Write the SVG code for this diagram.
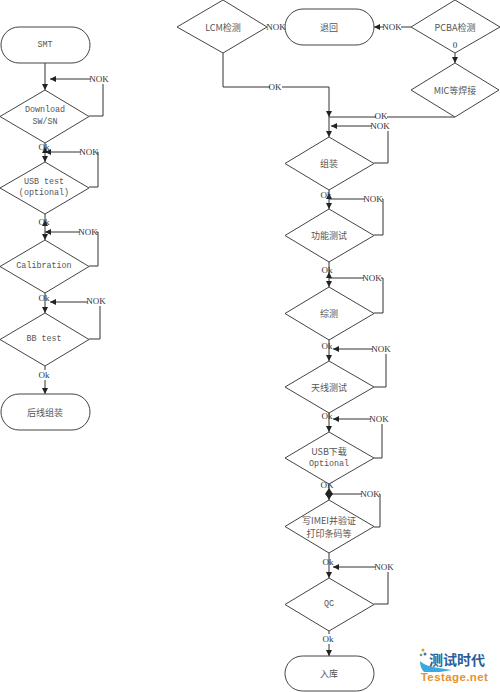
<svg xmlns="http://www.w3.org/2000/svg" width="500" height="692" viewBox="0 0 500 692">
<defs>
<marker id="ah" markerUnits="userSpaceOnUse" markerWidth="7" markerHeight="7" refX="6" refY="3" orient="auto"><path d="M0,0 L6,3 L0,6 Z" fill="#222"/></marker>
</defs>
<style>
.s{fill:#fff;stroke:#444;stroke-width:1}
.c{fill:none;stroke:#333;stroke-width:1}
.a{marker-end:url(#ah)}
text{font-family:"Liberation Mono","Noto Sans CJK SC",monospace;font-size:8.4px;fill:#555;text-anchor:middle;dominant-baseline:central}
.z{font-family:"Noto Sans CJK SC",sans-serif;font-size:9px}
.m{font-family:"Liberation Serif","Noto Sans CJK SC",serif;font-size:9px;fill:#333}
.b{fill:#fff;stroke:none}
</style>
<g id="connectors">
<path class="c a" d="M45,63V90"/>
<path class="c a" d="M89,116H103V79H50"/>
<path class="c a" d="M45,143V162"/>
<path class="c a" d="M89,187H98V152H45"/>
<path class="c a" d="M45,214V240"/>
<path class="c a" d="M89,266H98V232H45"/>
<path class="c a" d="M45,293V313"/>
<path class="c a" d="M89,339H100V302H50"/>
<path class="c a" d="M45,366V394"/>
<path class="c a" d="M411,27H374"/>
<path class="c a" d="M455,53V63"/>
<path class="c" d="M223,53V87H329"/>
<path class="c a" d="M329,87V117"/>
<path class="c" d="M455,117H329"/>
<path class="c a" d="M329,117V137"/>
<path class="c a" d="M374,163H388V126H331"/>
<path class="c a" d="M329,190V209"/>
<path class="c" d="M374,235H383V199H329"/>
<path class="c a" d="M329,262V287"/>
<path class="c" d="M374,313H383V278H329"/>
<path class="c a" d="M329,340V361"/>
<path class="c a" d="M374,387H386V349H333"/>
<path class="c a" d="M329,413V432"/>
<path class="c a" d="M374,458H382V419H333"/>
<path class="c a" d="M329,484V500"/>
<path class="c" d="M374,527H380V494H329"/>
<path class="c a" d="M329,553V578"/>
<path class="c a" d="M374,604H388V567H333"/>
<path class="c a" d="M329,631V656"/>
<path d="M45,220l-3,6h6zM45,147l-3,6h6zM329,193l-3,6h6zM329,272l-3,6h6zM329,488l-4,6 4,5 4-5z" fill="#222"/>
<g>
<rect class="b" x="91" y="74" width="16" height="10"/><text x="99" y="79" class="m">NOK</text>
<rect class="b" x="81" y="147" width="16" height="10"/><text x="89" y="152" class="m">NOK</text>
<rect class="b" x="80" y="227" width="16" height="10"/><text x="88" y="232" class="m">NOK</text>
<rect class="b" x="88" y="296" width="16" height="10"/><text x="96" y="301" class="m">NOK</text>
<text x="44" y="147" class="m">Ok</text>
<text x="44" y="222" class="m">Ok</text>
<text x="44" y="298" class="m">Ok</text>
<rect class="b" x="39" y="370" width="10" height="10"/><text x="44" y="375" class="m">Ok</text>
<rect class="b" x="268" y="22" width="16" height="10"/><text x="276" y="27" class="m">NOK</text>
<rect class="b" x="384" y="22" width="17" height="10"/><text x="392" y="27" class="m">NOK</text>
<rect class="b" x="270" y="82" width="12" height="10"/><text x="275" y="87" class="m">OK</text>
<rect class="b" x="376" y="111" width="11" height="10"/><text x="381" y="116" class="m">OK</text>
<rect class="b" x="372" y="121" width="17" height="10"/><text x="380" y="126" class="m">NOK</text>
<text x="326" y="195" class="m">Ok</text>
<rect class="b" x="365" y="194" width="17" height="10"/><text x="373" y="199" class="m">NOK</text>
<text x="327" y="270" class="m">Ok</text>
<rect class="b" x="364" y="273" width="17" height="10"/><text x="372" y="278" class="m">NOK</text>
<text x="327" y="346" class="m">Ok</text>
<rect class="b" x="373" y="344" width="17" height="10"/><text x="381" y="349" class="m">NOK</text>
<text x="327" y="416" class="m">Ok</text>
<rect class="b" x="371" y="414" width="17" height="10"/><text x="379" y="419" class="m">NOK</text>
<text x="327" y="485" class="m">OK</text>
<rect class="b" x="362" y="489" width="17" height="10"/><text x="370" y="494" class="m">NOK</text>
<text x="328" y="562" class="m">Ok</text>
<rect class="b" x="376" y="562" width="17" height="10"/><text x="384" y="567" class="m">NOK</text>
<rect class="b" x="323" y="634" width="12" height="10"/><text x="328" y="639" class="m">Ok</text>
</g>
</g>
<g id="smt"><rect class="s" x="1" y="27" width="89" height="36" rx="18"/><text x="45" y="45">SMT</text></g>
<g id="download"><path class="s" d="M45,90L89,116.500L45,143L0,116.500Z"/><text x="45" y="110">Download</text><text x="45" y="122">SW/SN</text></g>
<g id="usb-test"><path class="s" d="M45,162L89,188L45,214L0,188Z"/><text x="44" y="182">USB test</text><text x="44" y="193">(optional)</text></g>
<g id="calibration"><path class="s" d="M45,240L89,266.500L45,293L0,266.500Z"/><text x="44" y="266">Calibration</text></g>
<g id="bb-test"><path class="s" d="M45,313L89,339.500L45,366L0,339.500Z"/><text x="44" y="339">BB test</text></g>
<g id="houxian"><rect class="s" x="1" y="394" width="89" height="36" rx="18"/><text x="45" y="412" class="z">后线组装</text></g>
<g id="lcm"><path class="s" d="M223,0L267,27L223,53L177,27Z"/><text x="223" y="27" class="z">LCM检测</text></g>
<g id="tuihui"><rect class="s" x="285" y="9" width="89" height="36" rx="18"/><text x="329" y="27" class="z">退回</text></g>
<g id="pcba"><path class="s" d="M455,0L500,27L455,53L411,27Z"/><text x="455" y="27" class="z">PCBA检测</text><text x="455" y="45" class="m">0</text></g>
<g id="mic"><path class="s" d="M455,63L499,90L455,117L411,90Z"/><text x="455" y="90" class="z">MIC等焊接</text></g>
<g id="zuzhuang"><path class="s" d="M329,137L374,163.500L329,190L285,163.500Z"/><text x="329" y="163" class="z">组装</text></g>
<g id="gongneng"><path class="s" d="M329,209L374,235.500L329,262L285,235.500Z"/><text x="329" y="235" class="z">功能测试</text></g>
<g id="zongce"><path class="s" d="M329,287L374,313.500L329,340L285,313.500Z"/><text x="329" y="313" class="z">综测</text></g>
<g id="tianxian"><path class="s" d="M329,361L374,387L329,413L285,387Z"/><text x="329" y="387" class="z">天线测试</text></g>
<g id="usb-dl"><path class="s" d="M329,432L374,458L329,484L285,458Z"/><text x="329" y="451" class="z">USB下载</text><text x="329" y="464">Optional</text></g>
<g id="imei"><path class="s" d="M329,500L374,526.500L329,553L285,526.500Z"/><text x="329" y="520" class="z">写IMEI并验证</text><text x="329" y="533" class="z">打印条码等</text></g>
<g id="qc"><path class="s" d="M329,578L374,604.500L329,631L285,604.500Z"/><text x="329" y="604">QC</text></g>
<g id="ruku"><rect class="s" x="285" y="656" width="89" height="35" rx="17.500"/><text x="329" y="673" class="z">入库</text></g>
<g id="logo">
<path d="M420,661C426,667 438,668 452,670L440,672H424C421,669 420,665 420,661Z" fill="#39a9e0"/>
<circle cx="423" cy="650" r="1.500" fill="#d9a23a"/><circle cx="425" cy="654" r="1.500" fill="#3a78b0"/><circle cx="421" cy="655" r="1.300" fill="#7a9a4a"/>
<text x="457" y="659" style="font-family:'Noto Sans CJK SC',sans-serif;font-size:14px;font-weight:700;fill:#2b5d9b">测试时代</text>
<text x="454.500" y="676.500" style="font-family:'Liberation Sans',sans-serif;font-size:11.500px;font-weight:700;letter-spacing:.4px;fill:#e8912d">Testage.net</text>
</g>
</svg>
